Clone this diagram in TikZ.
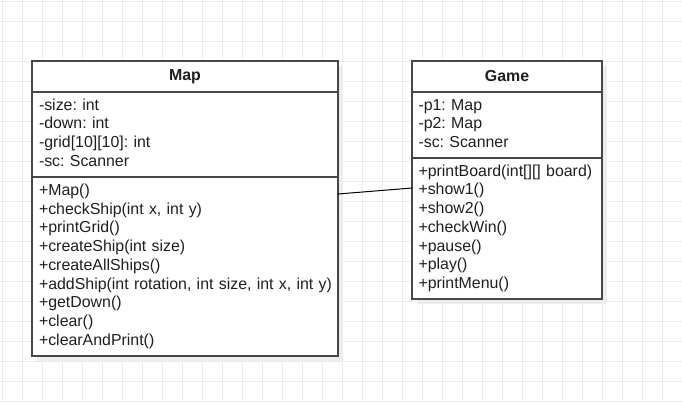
\documentclass[tikz,border=0pt]{standalone}
\usepackage{fontspec}
\setmainfont{Liberation Sans}
\usetikzlibrary{positioning,shadows}

\newcommand\umlfont{\fontsize{15.9pt}{18.75pt}\selectfont\frenchspacing}

\tikzset{
    gridline/.style={black!8, line width=1pt},
    umlbox/.style={draw=black!72, line width=1.2pt, fill=white, outer sep=0pt,
        text=black!88, font=\umlfont,
        drop shadow={shadow xshift=5pt, shadow yshift=-5pt, fill=black!7, opacity=1}},
    classhead/.style={umlbox, font=\umlfont\bfseries, minimum height=31pt, inner sep=0pt, anchor=north west},
    classpart/.style={umlbox, align=left, inner xsep=7pt, inner ysep=0pt, below=0pt of #1},
}

\begin{document}
\begin{tikzpicture}[x=1pt, y=-1pt]
    \useasboundingbox[fill=white] (0,0) rectangle (682,402);

    % background grid
    \foreach \i in {0,...,34}
        \draw[gridline] ({2+20*\i},0) -- ({2+20*\i},402);
    \foreach \i in {0,...,20}
        \draw[gridline] (0,{1+20*\i}) -- (682,{1+20*\i});

    % class Map
    \node[classhead, minimum width=306pt] (maphead) at (32,61) {Map};
    \node[classpart=maphead, text width=292pt, minimum height=85pt] (mapattr) {\strut-size: int\\
        -down: int\\
        -grid[10][10]: int\\
        -sc: Scanner\strut};
    \node[classpart=mapattr, text width=292pt, minimum height=179pt] (mapmeth) {\strut+Map()\\
        +checkShip(int x, int y)\\
        +printGrid()\\
        +createShip(int size)\\
        +createAllShips()\\
        \mbox{+addShip(int rotation, int size, int x, int y)}\\
        +getDown()\\
        +clear()\\
        +clearAndPrint()\strut};

    % class Game
    \node[classhead, minimum width=190pt] (gamehead) at (412,61) {Game};
    \node[classpart=gamehead, text width=177pt, inner xsep=6.5pt, minimum height=66pt] (gameattr) {\strut-p1: Map\\
        -p2: Map\\
        -sc: Scanner\strut};
    \node[classpart=gameattr, text width=177pt, inner xsep=6.5pt, minimum height=141pt] (gamemeth) {\strut+printBoard(int[][] board)\\
        +show1()\\
        +show2()\\
        +checkWin()\\
        +pause()\\
        +play()\\
        +printMenu()\strut};

    % association
    \draw[black, line width=1pt] ([yshift=-17pt]mapmeth.north east) -- ([yshift=-30pt]gamemeth.north west);
\end{tikzpicture}
\end{document}
